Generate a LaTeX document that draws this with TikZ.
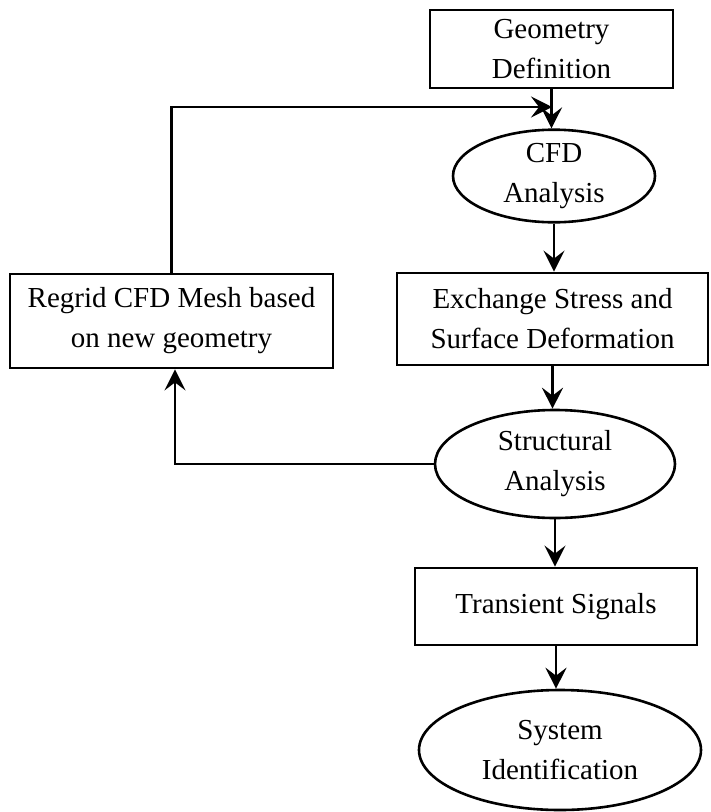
\documentclass[tikz,border=0pt]{standalone}
\usepackage{fontspec}
\setmainfont{Liberation Serif}
\usetikzlibrary{shapes.geometric,arrows.meta}
\tikzset{
  box/.style={draw, line width=2.8pt, rectangle, inner sep=0pt, align=center,
    font=\fontsize{29}{40}\selectfont},
  oval/.style={draw, line width=2.6pt, ellipse, inner sep=0pt, align=center,
    font=\fontsize{29}{40}\selectfont},
  arr/.style={line width=2.6pt, -{Stealth[length=21pt,width=21pt,inset=8pt]}}
}
\begin{document}
\begin{tikzpicture}[x=1pt,y=-1pt]
\useasboundingbox (0,0) rectangle (711,812);
\node[box, minimum width=243pt, minimum height=78pt] (geo) at (551.5,49) {Geometry\\Definition};
\node[oval, minimum width=202pt, minimum height=92pt] (cfd) at (554,176) {CFD\\Analysis};
\node[box, minimum width=311pt, minimum height=92pt] (exch) at (552.5,319) {Exchange Stress and\\Surface Deformation};
\node[box, minimum width=323pt, minimum height=94pt] (regrid) at (171.5,321) {Regrid CFD Mesh based\\on new geometry};
\node[oval, minimum width=240pt, minimum height=108pt] (struct) at (555,464) {Structural\\Analysis};
\node[box, minimum width=282pt, minimum height=77pt] (trans) at (556,606.5) {Transient Signals};
\node[oval, minimum width=282pt, minimum height=120pt] (sysid) at (560,750) {System\\Identification};
\coordinate (fb) at (552,107);
\draw[arr] (geo.south) -- (geo.south |- cfd.north);
\draw[arr] (cfd.south) -- (cfd.south |- exch.north);
\draw[arr] (exch.south) -- (exch.south |- struct.north);
\draw[arr] (struct.south) -- (struct.south |- trans.north);
\draw[arr] (trans.south) -- (trans.south |- sysid.north);
\draw[arr] (regrid.north) |- (fb);
\draw[arr] (struct.west) -| ([xshift=3.5pt]regrid.south);
\end{tikzpicture}
\end{document}
